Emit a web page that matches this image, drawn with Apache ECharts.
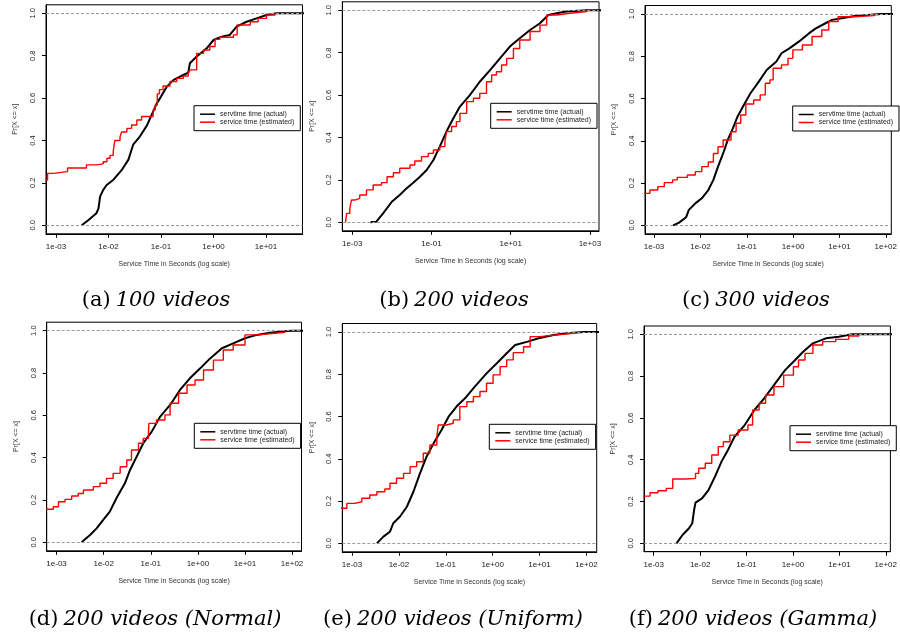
<!DOCTYPE html>
<html><head><meta charset="utf-8">
<script src="https://cdn.jsdelivr.net/npm/echarts@6/dist/echarts.min.js"></script>
<style>html,body{margin:0;padding:0;background:#fff}#c{width:900px;height:634px}</style>
</head><body><div id="c"></div><script>
// ---- data (x = log10 of service time in seconds, y = Pr[X <= x]) ----
const seriesNames = ['servtime time (actual)', 'service time (estimated)'];
const yTicks = [0, 0.2, 0.4, 0.6, 0.8, 1.0];
const xTicksA = [-3, -2, -1, 0, 1];
const xTicksB = [-3, -1, 1, 3];
const xTicksC = [-3, -2, -1, 0, 1, 2];
const xTicksD = [-3, -2, -1, 0, 1, 2];
const xTicksE = [-3, -2, -1, 0, 1, 2];
const xTicksF = [-3, -2, -1, 0, 1, 2];
const captions = [['(a)', '100 videos'], ['(b)', '200 videos'], ['(c)', '300 videos'],
  ['(d)', '200 videos (Normal)'], ['(e)', '200 videos (Uniform)'], ['(f)', '200 videos (Gamma)']];

const actualA = [[-2.51,0],[-2.38,0.025],[-2.23,0.057],[-2.19,0.08],[-2.16,0.135],[-2.10,0.167],[-2.035,0.19],[-1.91,0.214],[-1.75,0.26],[-1.62,0.31],[-1.53,0.38],[-1.40,0.42],[-1.27,0.47],[-1.18,0.52],[-1.08,0.575],[-1.0,0.607],[-0.89,0.654],[-0.76,0.686],[-0.575,0.709],[-0.48,0.72],[-0.45,0.764],[-0.32,0.796],[-0.13,0.835],[0,0.874],[0.156,0.89],[0.31,0.898],[0.44,0.937],[0.63,0.96],[0.82,0.976],[1.01,0.992],[1.2,1.0],[2.5,1.0]];
const estimatedA = [[-3.3,0.214],[-3.16,0.245],[-3.05,0.253],[-2.78,0.27],[-2.42,0.285],[-2.23,0.29],[-2.10,0.30],[-2.03,0.316],[-1.97,0.33],[-1.91,0.347],[-1.88,0.40],[-1.78,0.418],[-1.75,0.44],[-1.65,0.457],[-1.56,0.473],[-1.46,0.497],[-1.37,0.513],[-1.15,0.544],[-1.11,0.567],[-1.07,0.62],[-1.03,0.64],[-0.96,0.657],[-0.83,0.678],[-0.70,0.693],[-0.575,0.704],[-0.48,0.717],[-0.45,0.733],[-0.32,0.811],[-0.19,0.827],[-0.07,0.843],[0.03,0.877],[0.12,0.887],[0.38,0.898],[0.45,0.945],[0.70,0.96],[0.85,0.976],[1.01,0.992],[1.17,1.0]];

const actualB = [[-2.54,0],[-2.39,0.003],[-2.22,0.042],[-2.0,0.097],[-1.80,0.129],[-1.63,0.16],[-1.46,0.187],[-1.29,0.215],[-1.12,0.247],[-0.95,0.294],[-0.79,0.357],[-0.62,0.428],[-0.45,0.49],[-0.28,0.546],[-0.03,0.60],[0.22,0.663],[0.48,0.718],[0.73,0.773],[0.98,0.829],[1.23,0.868],[1.49,0.907],[1.74,0.939],[1.95,0.978],[2.16,0.986],[2.41,0.994],[2.92,1.0],[4,1.0]];
const estimatedB = [[-3.17,0],[-3.14,0.042],[-3.06,0.066],[-3.02,0.105],[-2.93,0.113],[-2.81,0.129],[-2.64,0.153],[-2.47,0.176],[-2.26,0.187],[-2.12,0.215],[-1.96,0.234],[-1.80,0.255],[-1.54,0.27],[-1.42,0.289],[-1.25,0.31],[-1.08,0.325],[-0.95,0.341],[-0.79,0.357],[-0.66,0.38],[-0.62,0.428],[-0.49,0.452],[-0.37,0.475],[-0.28,0.514],[-0.11,0.569],[0.06,0.585],[0.22,0.608],[0.39,0.663],[0.52,0.695],[0.64,0.71],[0.77,0.742],[0.90,0.773],[1.07,0.82],[1.23,0.86],[1.49,0.9],[1.74,0.93],[1.91,0.978],[2.16,0.986],[2.5,0.994],[2.92,1.0]];

const actualC = [[-2.59,0],[-2.46,0.013],[-2.31,0.038],[-2.25,0.073],[-2.11,0.104],[-1.97,0.128],[-1.83,0.167],[-1.72,0.215],[-1.62,0.278],[-1.51,0.34],[-1.41,0.404],[-1.30,0.459],[-1.20,0.514],[-1.06,0.57],[-0.92,0.625],[-0.74,0.68],[-0.57,0.735],[-0.36,0.775],[-0.25,0.814],[-0.08,0.837],[0.13,0.87],[0.34,0.908],[0.49,0.932],[0.70,0.956],[0.84,0.972],[1.05,0.98],[1.33,0.99],[1.75,0.998],[1.9,1.0],[3,1.0]];
const estimatedC = [[-3.3,0.151],[-3.09,0.167],[-2.92,0.183],[-2.78,0.202],[-2.60,0.215],[-2.50,0.227],[-2.28,0.238],[-2.11,0.254],[-1.97,0.278],[-1.83,0.30],[-1.72,0.34],[-1.62,0.372],[-1.51,0.404],[-1.34,0.443],[-1.23,0.483],[-1.13,0.522],[-1.02,0.574],[-0.85,0.593],[-0.71,0.617],[-0.60,0.672],[-0.50,0.688],[-0.43,0.743],[-0.25,0.759],[-0.11,0.79],[-0.005,0.83],[0.20,0.853],[0.41,0.893],[0.62,0.924],[0.77,0.964],[0.97,0.987],[1.33,0.992],[1.75,1.0]];

const actualD = [[-2.47,0],[-2.29,0.035],[-2.15,0.066],[-2.01,0.106],[-1.87,0.145],[-1.73,0.208],[-1.55,0.279],[-1.44,0.342],[-1.30,0.405],[-1.16,0.468],[-0.98,0.523],[-0.80,0.594],[-0.59,0.649],[-0.38,0.72],[-0.17,0.775],[0.05,0.822],[0.26,0.869],[0.51,0.917],[0.75,0.94],[1.0,0.964],[1.25,0.98],[1.53,0.99],[1.89,0.998],[2.0,1.0],[3,1.0]];
const estimatedD = [[-3.3,0.156],[-3.07,0.168],[-2.96,0.192],[-2.82,0.203],[-2.68,0.219],[-2.54,0.231],[-2.43,0.247],[-2.22,0.263],[-2.08,0.279],[-1.94,0.302],[-1.80,0.326],[-1.65,0.357],[-1.51,0.389],[-1.41,0.436],[-1.26,0.468],[-1.16,0.491],[-1.05,0.515],[-1.04,0.562],[-0.88,0.578],[-0.70,0.602],[-0.59,0.657],[-0.41,0.704],[-0.23,0.743],[-0.06,0.767],[0.12,0.814],[0.33,0.861],[0.54,0.909],[0.75,0.932],[1.0,0.98],[1.25,0.984],[1.46,0.992],[1.85,1.0]];

const actualE = [[-2.47,0],[-2.33,0.032],[-2.19,0.055],[-2.12,0.095],[-1.98,0.126],[-1.83,0.173],[-1.69,0.244],[-1.55,0.331],[-1.41,0.41],[-1.26,0.473],[-1.09,0.536],[-0.94,0.599],[-0.77,0.647],[-0.59,0.686],[-0.38,0.741],[-0.13,0.804],[0.09,0.852],[0.30,0.899],[0.48,0.938],[0.73,0.953],[0.98,0.97],[1.30,0.986],[1.58,0.994],[1.94,1.0],[3,1.0]];
const estimatedE = [[-3.3,0.166],[-3.11,0.189],[-2.94,0.197],[-2.79,0.213],[-2.62,0.229],[-2.47,0.244],[-2.30,0.257],[-2.19,0.284],[-2.05,0.308],[-1.90,0.331],[-1.76,0.363],[-1.62,0.386],[-1.48,0.426],[-1.34,0.465],[-1.19,0.505],[-1.16,0.56],[-0.98,0.568],[-0.84,0.584],[-0.70,0.647],[-0.55,0.67],[-0.41,0.694],[-0.27,0.718],[-0.13,0.757],[0.01,0.797],[0.16,0.836],[0.30,0.868],[0.44,0.902],[0.66,0.93],[0.80,0.978],[1.01,0.986],[1.37,0.994],[1.72,1.0]];

const actualF = [[-2.51,0],[-2.38,0.04],[-2.24,0.072],[-2.17,0.096],[-2.13,0.16],[-2.10,0.195],[-1.96,0.215],[-1.82,0.255],[-1.68,0.319],[-1.54,0.391],[-1.40,0.447],[-1.26,0.51],[-1.04,0.566],[-0.83,0.638],[-0.62,0.694],[-0.41,0.757],[-0.17,0.829],[0.01,0.869],[0.22,0.917],[0.43,0.957],[0.71,0.981],[0.99,0.989],[1.27,1.0],[3,1.0]];
const estimatedF = [[-3.3,0.226],[-3.08,0.242],[-2.91,0.252],[-2.73,0.263],[-2.59,0.308],[-2.31,0.311],[-2.10,0.335],[-2.03,0.359],[-1.89,0.383],[-1.75,0.423],[-1.61,0.463],[-1.50,0.486],[-1.36,0.518],[-1.18,0.542],[-0.97,0.566],[-0.87,0.638],[-0.73,0.67],[-0.59,0.71],[-0.41,0.75],[-0.20,0.805],[0.01,0.845],[0.12,0.877],[0.26,0.909],[0.43,0.949],[0.64,0.965],[0.92,0.976],[1.20,0.992],[1.42,1.0]];

// ---- layout ----
const panels = [
  {grid:{left:46, top:4.8, width:256.5, height:229}, xMin:-3.19, xMax:1.695, ticks:xTicksA, actual:actualA, est:estimatedA, legend:[194,105.7], cap:[151,298]},
  {grid:{left:342.3, top:1.8, width:256.7, height:229}, xMin:-3.25, xMax:3.23, ticks:xTicksB, actual:actualB, est:estimatedB, legend:[490.7,103.3], cap:[449,298]},
  {grid:{left:645, top:5.5, width:252.7, height:228.3}, xMin:-3.196, xMax:2.12, ticks:xTicksC, actual:actualC, est:estimatedC, legend:[792.7,106], cap:[751,298]},
  {grid:{left:46.7, top:322.2, width:254.8, height:228.6}, xMin:-3.21, xMax:2.2, ticks:xTicksD, actual:actualD, est:estimatedD, legend:[194.3,423.3], cap:[150,617]},
  {grid:{left:342.3, top:323.5, width:254.4, height:228.3}, xMin:-3.207, xMax:2.22, ticks:xTicksE, actual:actualE, est:estimatedE, legend:[489.3,424.3], cap:[448,617]},
  {grid:{left:644, top:326, width:252, height:225.7}, xMin:-3.21, xMax:2.1, ticks:xTicksF, actual:actualF, est:estimatedF, legend:[790,425.7], cap:[748,617]}
];

const FONT = 'Liberation Sans';
const fmtX = v => '1e' + (v < 0 ? '-' : '+') + String(Math.abs(Math.round(v))).padStart(2, '0');
const LINE_ICON = 'path://M0,0 L16,0 L16,1.6 L0,1.6 Z';

const option = {animation:false, backgroundColor:'#fff', grid:[], xAxis:[], yAxis:[], series:[], legend:[], title:[]};
panels.forEach((p, i) => {
  option.grid.push(Object.assign({show:true, borderColor:'#000', borderWidth:1, backgroundColor:'transparent', containLabel:false}, p.grid));
  option.xAxis.push({
    type:'value', gridIndex:i, min:p.xMin, max:p.xMax,
    name:'Service Time in Seconds (log scale)', nameLocation:'middle', nameGap:27,
    nameTextStyle:{fontFamily:FONT, fontSize:7, color:'#333'},
    axisLine:{show:true, onZero:false, lineStyle:{color:'#000', width:1}},
    axisTick:{show:true, length:4, lineStyle:{color:'#000'}, customValues:p.ticks},
    axisLabel:{show:true, margin:9, fontFamily:FONT, fontSize:8, color:'#222', customValues:p.ticks, formatter:fmtX},
    splitLine:{show:false}
  });
  option.yAxis.push({
    type:'value', gridIndex:i, min:-0.04, max:1.04,
    name:'Pr[X <= x]', nameLocation:'middle', nameGap:27, nameRotate:90,
    nameTextStyle:{fontFamily:FONT, fontSize:7, color:'#333'},
    axisLine:{show:true, onZero:false, lineStyle:{color:'#000', width:1}},
    axisTick:{show:true, length:4, lineStyle:{color:'#000'}, customValues:yTicks},
    axisLabel:{show:true, margin:9, rotate:90, fontFamily:FONT, fontSize:7.5, color:'#222', customValues:yTicks, formatter:v => v.toFixed(1)},
    splitLine:{show:false}
  });
  option.series.push({
    name:seriesNames[0], type:'line', xAxisIndex:i, yAxisIndex:i, data:p.actual,
    showSymbol:false, symbol:'none', color:'#000', clip:true,
    lineStyle:{color:'#000', width:2},
    markLine:{silent:true, symbol:'none', label:{show:false}, animation:false,
      lineStyle:{color:'#9a9a9a', type:[3,2], width:1},
      data:[{yAxis:0}, {yAxis:1}]}
  });
  option.series.push({
    name:seriesNames[1], type:'line', xAxisIndex:i, yAxisIndex:i, data:p.est,
    step:'end', showSymbol:false, symbol:'none', color:'#ff0000', clip:true,
    lineStyle:{color:'#ff0000', width:1.4}
  });
  option.legend.push({
    left:p.legend[0], top:p.legend[1], orient:'vertical', data:seriesNames,
    icon:LINE_ICON, symbolKeepAspect:true,
    borderColor:'#000', borderWidth:1, backgroundColor:'#fff', borderRadius:0,
    padding:[5,6,5,6], itemGap:1, itemWidth:15, itemHeight:8,
    selectedMode:false,
    textStyle:{fontFamily:FONT, fontSize:7, color:'#222'}
  });
  option.title.push({
    left:p.cap[0], top:p.cap[1] - 13, textAlign:'center',
    text:'{r|' + captions[i][0] + '} {i|' + captions[i][1] + '}',
    textStyle:{fontWeight:'normal', rich:{
      r:{fontFamily:'DejaVu Serif', fontWeight:'normal', fontSize:21, color:'#000'},
      i:{fontFamily:'DejaVu Serif', fontStyle:'italic', fontWeight:'normal', fontSize:21, color:'#000'}
    }}
  });
});

const chart = echarts.init(document.getElementById('c'), null, {renderer:'canvas', width:900, height:634});
chart.setOption(option);
</script></body></html>
